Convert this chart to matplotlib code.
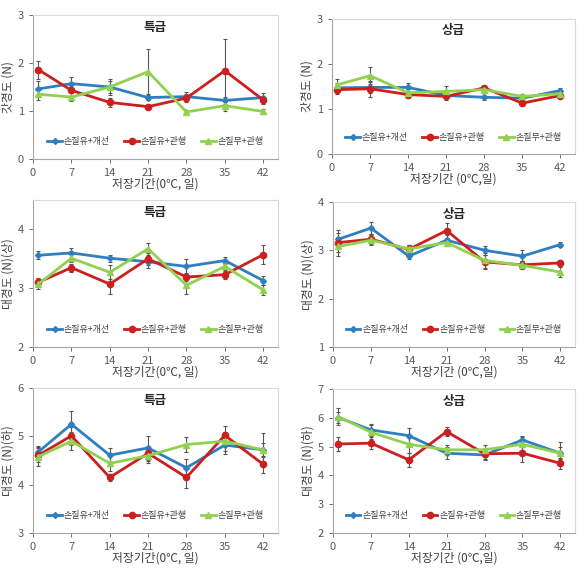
import numpy as np
import matplotlib
matplotlib.use('Agg')
import matplotlib.pyplot as plt

plt.rcParams['font.family'] = ['Noto Sans CJK KR', 'DejaVu Sans']

days = [1, 7, 14, 21, 28, 35, 42]
xticks = [0, 7, 14, 21, 28, 35, 42]
series_names = ['손질유+개선', '손질유+관행', '손질무+관행']

# panel 1: 갓경도 특급
p1_blue = [1.46, 1.57, 1.50, 1.28, 1.30, 1.22, 1.28]
p1_red = [1.86, 1.43, 1.18, 1.09, 1.27, 1.84, 1.23]
p1_green = [1.35, 1.29, 1.50, 1.82, 0.98, 1.11, 0.99]
p1_blue_err = [0.17, 0.14, 0.17, 0.06, 0.10, 0.08, 0.10]
p1_red_err = [0.19, 0.12, 0.10, 0.03, 0.08, 0.65, 0.08]
p1_green_err = [0.12, 0.08, 0.12, 0.47, 0.05, 0.12, 0.06]

# panel 2: 갓경도 상급
p2_blue = [1.47, 1.48, 1.48, 1.30, 1.26, 1.24, 1.41]
p2_red = [1.43, 1.45, 1.32, 1.28, 1.47, 1.13, 1.30]
p2_green = [1.54, 1.74, 1.36, 1.39, 1.43, 1.28, 1.34]
p2_blue_err = [0.10, 0.12, 0.10, 0.05, 0.06, 0.05, 0.05]
p2_red_err = [0.10, 0.18, 0.08, 0.08, 0.05, 0.05, 0.06]
p2_green_err = [0.13, 0.19, 0.08, 0.12, 0.05, 0.05, 0.08]

# panel 3: 대경도(상) 특급
p3_blue = [3.56, 3.60, 3.51, 3.45, 3.37, 3.47, 3.13]
p3_red = [3.10, 3.35, 3.07, 3.50, 3.19, 3.23, 3.57]
p3_green = [3.07, 3.51, 3.27, 3.67, 3.05, 3.37, 2.97]
p3_blue_err = [0.07, 0.08, 0.06, 0.10, 0.12, 0.06, 0.07]
p3_red_err = [0.07, 0.07, 0.17, 0.10, 0.07, 0.07, 0.16]
p3_green_err = [0.08, 0.07, 0.12, 0.10, 0.15, 0.06, 0.08]

# panel 4: 대경도(상) 상급
p4_blue = [3.23, 3.46, 2.88, 3.21, 3.00, 2.88, 3.12]
p4_red = [3.16, 3.23, 3.02, 3.41, 2.76, 2.70, 2.74]
p4_green = [3.08, 3.21, 3.03, 3.16, 2.79, 2.69, 2.55]
p4_blue_err = [0.20, 0.13, 0.05, 0.10, 0.10, 0.13, 0.05]
p4_red_err = [0.20, 0.10, 0.10, 0.15, 0.15, 0.08, 0.05]
p4_green_err = [0.20, 0.10, 0.08, 0.08, 0.15, 0.08, 0.10]

# panel 5: 대경도(하) 특급
p5_blue = [4.68, 5.25, 4.61, 4.76, 4.35, 4.82, 4.72]
p5_red = [4.61, 5.01, 4.15, 4.65, 4.15, 5.02, 4.42]
p5_green = [4.58, 4.90, 4.44, 4.60, 4.83, 4.90, 4.72]
p5_blue_err = [0.13, 0.27, 0.15, 0.25, 0.18, 0.18, 0.35]
p5_red_err = [0.15, 0.18, 0.08, 0.15, 0.21, 0.20, 0.18]
p5_green_err = [0.20, 0.18, 0.15, 0.15, 0.15, 0.20, 0.15]

# panel 6: 대경도(하) 상급
p6_blue = [6.01, 5.58, 5.38, 4.77, 4.71, 5.23, 4.77]
p6_red = [5.09, 5.12, 4.54, 5.52, 4.75, 4.77, 4.42]
p6_green = [6.04, 5.50, 5.08, 4.89, 4.89, 5.08, 4.77]
p6_blue_err = [0.20, 0.20, 0.25, 0.20, 0.15, 0.15, 0.20]
p6_red_err = [0.25, 0.20, 0.25, 0.15, 0.20, 0.30, 0.20]
p6_green_err = [0.30, 0.25, 0.30, 0.15, 0.15, 0.25, 0.40]

colors = ['#2e7ec0', '#cc1f1f', '#92d050']
markers = ['D', 'o', '^']
msizes = [3, 4.5, 4.5]

W, H = 587, 568
fig = plt.figure(figsize=(W / 100, H / 100), dpi=100)

panels = [
    # left, top, right, bottom (px), ylim, yticks, ylabel, title, xlabel, data
    (33, 15, 278, 159, (0, 3), [0, 1, 2, 3], '갓경도 (N)', '특급', '저장기간(0℃, 일)',
     (p1_blue, p1_red, p1_green), (p1_blue_err, p1_red_err, p1_green_err)),
    (332, 19, 575, 154, (0, 3), [0, 1, 2, 3], '갓경도 (N)', '상급', '저장기간 (0℃,일)',
     (p2_blue, p2_red, p2_green), (p2_blue_err, p2_red_err, p2_green_err)),
    (33, 200, 278, 347, (2, 4.5), [2, 3, 4], '대경도 (N)(상)', '특급', '저장기간(0℃, 일)',
     (p3_blue, p3_red, p3_green), (p3_blue_err, p3_red_err, p3_green_err)),
    (333, 202, 575, 347, (1, 4), [1, 2, 3, 4], '대경도 (N)(상)', '상급', '저장기간 (0℃,일)',
     (p4_blue, p4_red, p4_green), (p4_blue_err, p4_red_err, p4_green_err)),
    (33, 388, 278, 533, (3, 6), [3, 4, 5, 6], '대경도 (N)(하)', '특급', '저장기간(0℃, 일)',
     (p5_blue, p5_red, p5_green), (p5_blue_err, p5_red_err, p5_green_err)),
    (333, 389, 575, 533, (2, 7), [2, 3, 4, 5, 6, 7], '대경도 (N)(하)', '상급', '저장기간 (0℃,일)',
     (p6_blue, p6_red, p6_green), (p6_blue_err, p6_red_err, p6_green_err)),
]

for left, top, right, bottom, ylim, yt, ylab, title, xlab, data, errs in panels:
    ax = fig.add_axes([left / W, 1 - bottom / H, (right - left) / W, (bottom - top) / H])
    for vals, err, c, m, ms, name in zip(data, errs, colors, markers, msizes, series_names):
        ax.errorbar(days, vals, yerr=err, fmt='none', ecolor='#555555',
                    elinewidth=0.8, capsize=1.5, capthick=0.8, zorder=2)
        ax.plot(days, vals, color=c, marker=m, markersize=ms, linewidth=2,
                label=name, zorder=3)
    ax.set_xlim(0, 44.7)
    ax.set_ylim(*ylim)
    ax.set_xticks(xticks)
    ax.set_yticks(yt)
    ax.tick_params(labelsize=8, colors='#595959', length=3, width=0.6)
    for s in ax.spines.values():
        s.set_color('#d9d9d9')
        s.set_linewidth(0.8)
    ax.spines['left'].set_color('#a6a6a6')
    ax.spines['bottom'].set_color('#a6a6a6')
    ax.set_ylabel(ylab, fontsize=8.5, color='#404040', labelpad=2)
    ax.set_xlabel(xlab, fontsize=8.5, color='#404040', labelpad=0)
    ax.text(0.5, 0.915, title, transform=ax.transAxes, ha='center', va='center',
            fontsize=9, fontweight='bold', color='#262626')
    ax.legend(loc='center', bbox_to_anchor=(0.5, 0.12), ncol=3, frameon=False,
              fontsize=6.5, handlelength=1.6, columnspacing=1.6, handletextpad=0.2,
              borderpad=0, labelcolor='#404040')

fig.savefig('out.png', dpi=100)
